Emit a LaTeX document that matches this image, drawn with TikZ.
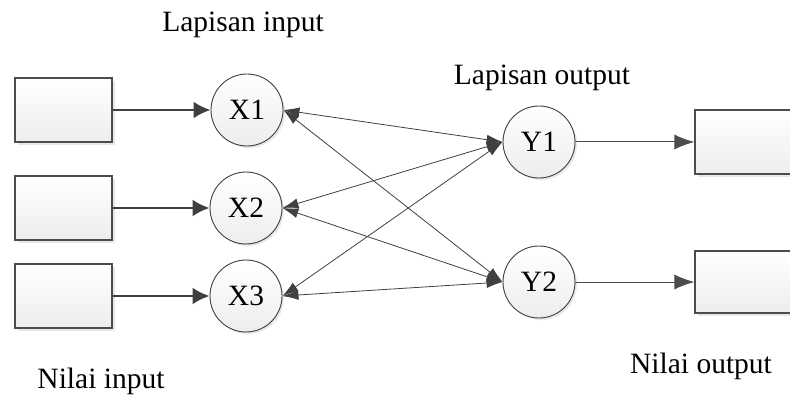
\documentclass[tikz,border=0pt]{standalone}
\usepackage{fontspec}
\setmainfont{Liberation Serif}
\usetikzlibrary{positioning, arrows.meta, shadows}
\tikzset{
	>={Latex[length=16pt,width=10pt]},
	x=1pt, y=-1pt,
	every node/.style={font=\fontsize{29.5}{34}\selectfont},
	neuron/.style={circle, draw=black!75, line width=0.9pt, minimum size=72pt, inner sep=0pt,
		top color=white, bottom color=gray!14,
		drop shadow={opacity=0.18, shadow xshift=2pt, shadow yshift=-2pt}},
	valbox/.style={rectangle, draw=black!70, line width=1.2pt, minimum width=97pt, minimum height=64pt,
		top color=white, bottom color=gray!14,
		drop shadow={opacity=0.18, shadow xshift=3pt, shadow yshift=-3pt}},
	feed/.style={->, line width=2.6pt, draw=black!75, >={Latex[length=17pt,width=17pt]}},
	outlink/.style={->, line width=1pt, draw=black!70, >={Latex[length=20pt,width=15pt]}},
	link/.style={<->, line width=0.8pt, draw=black!75},
	caption/.style={inner sep=0pt},
}
\begin{document}
\begin{tikzpicture}
	\useasboundingbox[clip] (0,0) rectangle (790,398);
	% input side
	\node[valbox] (in1) at (63.5,110) {};
	\node[valbox] (in2) at (63.5,208) {};
	\node[valbox] (in3) at (63.5,296) {};
	\node[neuron] (X1) at (247,110) {X1};
	\node[neuron] (X2) at (246,208) {X2};
	\node[neuron] (X3) at (246,296) {X3};
	% output side
	\node[neuron] (Y1) at (539,142) {Y1};
	\node[neuron] (Y2) at (539,282) {Y2};
	\node[valbox, minimum width=110pt] (out1) at (750,142) {};
	\node[valbox, minimum width=110pt, minimum height=62pt] (out2) at (750,282) {};
	% texts
	\node[caption] (lapin) at (243,25) {Lapisan input};
	\node[caption] (lapout) at (542,78) {Lapisan output};
	\node[caption] (nilin) at (101,381) {Nilai input};
	\node[caption] (nilout) at (701,366) {Nilai output};
	
	\draw[feed] (in1) -- (X1);
	\draw[feed] (in2) -- (X2);
	\draw[feed] (in3) -- (X3);
	\foreach \i in {1,2,3}
		\foreach \j in {1,2}
			\draw[link] (X\i.east) -- (Y\j.west);
	\draw[outlink] (Y1) -- (out1);
	\draw[outlink] (Y2) -- (out2);
\end{tikzpicture}
\end{document}
